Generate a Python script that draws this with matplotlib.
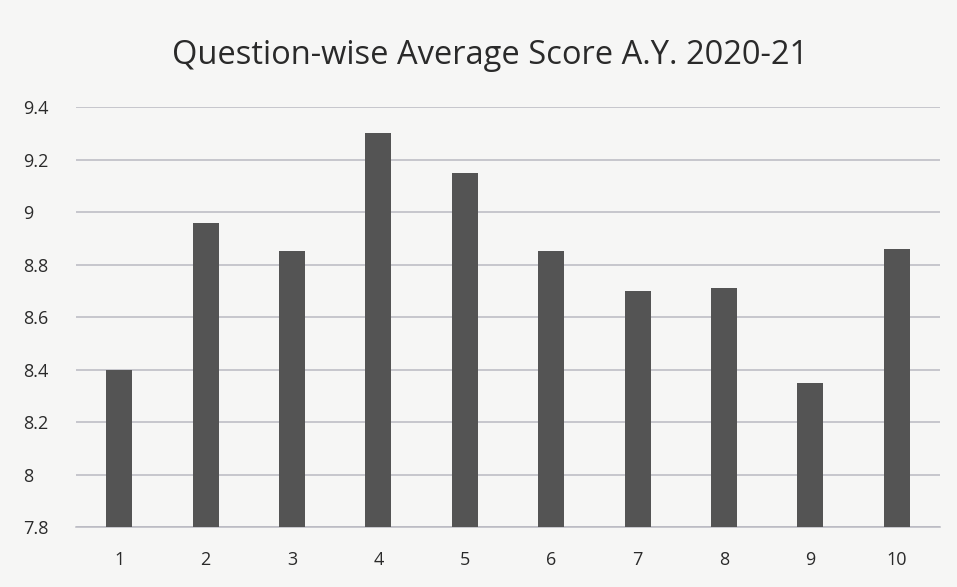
import matplotlib.pyplot as plt

questions = ["1", "2", "3", "4", "5", "6", "7", "8", "9", "10"]
avg_scores = [8.40, 8.96, 8.85, 9.30, 9.15, 8.85, 8.70, 8.71, 8.35, 8.86]
y_ticks = [7.8, 8.0, 8.2, 8.4, 8.6, 8.8, 9.0, 9.2, 9.4]
y_tick_labels = ["7.8", "8", "8.2", "8.4", "8.6", "8.8", "9", "9.2", "9.4"]

plt.rcParams["font.family"] = ["Open Sans", "DejaVu Sans"]

fig = plt.figure(figsize=(9.57, 5.87), dpi=100, facecolor="#f6f6f5")
ax = fig.add_axes([0.0794, 0.1022, 0.9028, 0.7155])
ax.set_facecolor("#f6f6f5")

x = range(len(questions))
ax.bar(x, avg_scores, width=0.3, color="#545454", zorder=3)

ax.set_ylim(7.8, 9.4)
ax.set_xlim(-0.5, len(questions) - 0.5)
ax.set_yticks(y_ticks)
ax.set_yticklabels(y_tick_labels)
ax.set_xticks(list(x))
ax.set_xticklabels(questions)
ax.tick_params(axis="both", length=0, labelsize=13, colors="#2a2a2a")
ax.tick_params(axis="x", pad=17)
ax.tick_params(axis="y", pad=38)
for lbl in ax.get_yticklabels():
    lbl.set_horizontalalignment("left")

ax.grid(axis="y", color="#b9b9c2", linewidth=1.1, zorder=0)
for s in ["top", "right", "left"]:
    ax.spines[s].set_visible(False)
ax.spines["bottom"].set_color("#b9b9c2")
ax.spines["bottom"].set_linewidth(1.1)

fig.text(0.512, 0.905, "Question-wise Average Score A.Y. 2020-21",
         ha="center", va="center", fontsize=23.5, color="#2a2a2a")

fig.savefig("out.png", dpi=100, facecolor=fig.get_facecolor())
